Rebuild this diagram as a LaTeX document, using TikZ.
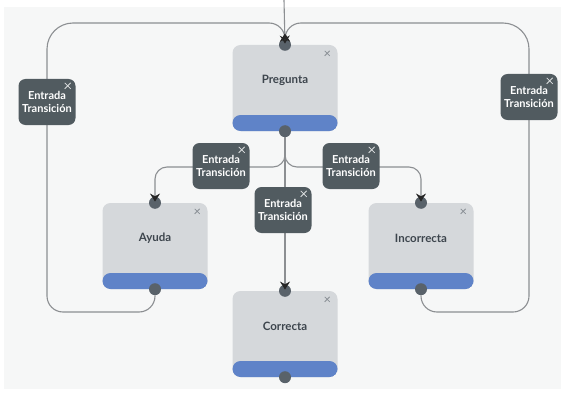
\documentclass[tikz,border=0pt]{standalone}
\usepackage{fontspec}
\setmainfont{Lato}
\usetikzlibrary{arrows.meta}
\definecolor{bgc}{HTML}{F6F7F7}
\definecolor{boxg}{HTML}{D5D8DB}
\definecolor{bandb}{HTML}{5F83C8}
\definecolor{handc}{HTML}{59626A}
\definecolor{lblc}{HTML}{515B60}
\definecolor{lineg}{HTML}{8C8F92}
\definecolor{txtc}{HTML}{3D454D}
\definecolor{xmc}{HTML}{8A9096}
\begin{document}
\begin{tikzpicture}[x=1pt,y=-1pt,
  card/.style={draw=none, fill=boxg, rounded corners=8pt, minimum width=105pt, minimum height=86pt, inner sep=0pt,
    path picture={\fill[bandb] (path picture bounding box.south west) rectangle ([yshift=16pt]path picture bounding box.south east);}},
  cardtxt/.style={font=\fontsize{11.5}{13}\selectfont\bfseries, text=txtc, inner sep=0pt},
  handle/.style={circle, fill=handc, minimum size=12pt, inner sep=0pt},
  lbl/.style={fill=lblc, rounded corners=7pt, minimum width=57pt, minimum height=46pt, inner sep=1pt, align=center,
    text=white, font=\fontsize{11}{13.5}\selectfont\bfseries},
  conn/.style={draw=lineg, line width=1.1pt, rounded corners=#1},
  conn/.default=26pt,
  tip/.style={-{Stealth[length=8pt,width=10pt,color=black!85]}, shorten >=-5pt},
  xm/.style={draw=xmc, line width=0.8pt},
  xw/.style={draw=white!80!lblc, line width=0.8pt}
]
\useasboundingbox (0,0) rectangle (564,393);
\fill[bgc] (4,7) rectangle (561,389);

% cards
\node[card] (pq) at (285,88) {};
\node[card] (ay) at (155,246) {};
\node[card] (in) at (421,246) {};
\node[card] (cr) at (285,334) {};

\node[cardtxt] (pqt) at (285,80) {Pregunta};
\node[cardtxt] (ayt) at (155,238) {Ayuda};
\node[cardtxt] (int) at (421,238) {Incorrecta};
\node[cardtxt] (crt) at (285,326) {Correcta};

\foreach \c in {pq,ay,in,cr}{
  \draw[xm] ([xshift=-13pt,yshift=-6pt]\c.north east) -- ++(5,5)
            ([xshift=-8pt,yshift=-6pt]\c.north east) -- ++(-5,5);
}

% handles
\node[handle] (pqT) at (pq.north) {};
\node[handle] (pqB) at (pq.south) {};
\node[handle] (ayT) at (ay.north) {};
\node[handle] (ayB) at (ay.south) {};
\node[handle] (inT) at (in.north) {};
\node[handle] (inB) at (in.south) {};
\node[handle] (crT) at (cr.north) {};
\node[handle] (crB) at (cr.south) {};

% helper coordinates
\coordinate (top) at (284,0);
\coordinate (LB) at (47,312);
\coordinate (LT) at (47,23);
\coordinate (RB) at (529,312);
\coordinate (RT) at (529,23);
\coordinate (JL) at (221,167);
\coordinate (JR) at (351,167);

% connectors
\draw[conn, tip] (top) -- (pqT);
\draw[conn=16pt, tip] (ayB) |- (LB) [rounded corners=26pt] -- (LT) [rounded corners=16pt] -| (pqT);
\draw[conn=16pt, tip] (inB) |- (RB) [rounded corners=26pt] -- (RT) [rounded corners=16pt] -| (pqT);
\draw[conn=12pt, tip] (pqB) |- (JL) -| (ayT);
\draw[conn=12pt, tip] (pqB) |- (JR) -| (inT);
\draw[conn, tip] (pqB) -- (crT);

% transition labels
\node[lbl] (l1) at (47,102) {Entrada\\Transición};
\node[lbl] (l2) at (529,97) {Entrada\\Transición};
\node[lbl] (l3) at (221,166) {Entrada\\Transición};
\node[lbl] (l4) at (351,166) {Entrada\\Transición};
\node[lbl] (l5) at (283,210) {Entrada\\Transición};
\foreach \c in {l1,l2,l3,l4,l5}{
  \draw[xw] ([xshift=-11pt,yshift=-4pt]\c.north east) -- ++(6,6)
            ([xshift=-5pt,yshift=-4pt]\c.north east) -- ++(-6,6);
}
\end{tikzpicture}
\end{document}
